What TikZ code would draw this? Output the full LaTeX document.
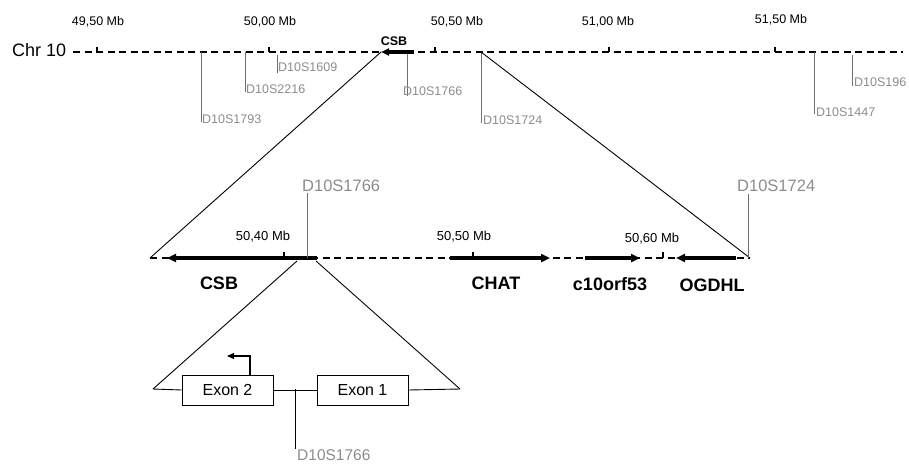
\documentclass[tikz,border=0pt]{standalone}
\usepackage{fontspec}
\setmainfont{Liberation Sans}
\usetikzlibrary{arrows.meta}
\definecolor{mk}{HTML}{8C8C8C}
\definecolor{mkline}{HTML}{6E6E6E}
\begin{document}
\begin{tikzpicture}[x=1pt,y=-1pt,
  chrline/.style={line width=1.1pt,dash pattern=on 7pt off 4.5pt},
  tickmark/.style={line width=1.1pt},
  mbtxt/.style={font=\fontsize{12.5}{12.5}\selectfont,inner sep=0pt},
  mblab/.style={font=\fontsize{12.5}{12.5}\selectfont,text=mk,inner sep=0pt,anchor=north west},
  mkl/.style={draw=mkline,line width=0.9pt},
  gene/.style={line width=3.6pt,-{Triangle[length=9pt,width=8pt]}},
  gname/.style={font=\bfseries\fontsize{18}{18}\selectfont,inner sep=0pt},
  thin/.style={line width=0.9pt},
  exonbox/.style={draw,line width=0.9pt,minimum width=91pt,minimum height=30pt,inner sep=0pt,font=\fontsize{16}{16}\selectfont}]
\useasboundingbox (0,0) rectangle (909,463);
% ---------- top chromosome ----------
\node[font=\fontsize{18}{18}\selectfont,inner sep=0pt,anchor=west] (chr) at (12,50) {Chr 10};
\coordinate (tl) at (73,52);
\coordinate (tr) at (903,52);
\draw[chrline] (tl) -- (tr);
\foreach \x [count=\i] in {97,269,435,609,775}{
  \coordinate (tk\i) at (\x,52);
  \draw[tickmark] (tk\i) -- ++(0,-5);
}
\node[mbtxt] (m1) at (98,22) {49,50 Mb};
\node[mbtxt] (m2) at (270,22) {50,00 Mb};
\node[mbtxt] (m3) at (457,22) {50,50 Mb};
\node[mbtxt] (m4) at (608,22) {51,00 Mb};
\node[mbtxt] (m5) at (781,20) {51,50 Mb};
% markers
\coordinate (a1) at (201,52); \coordinate (b1) at (201,122);
\coordinate (a2) at (245,52); \coordinate (b2) at (245,92);
\coordinate (a3) at (277,55); \coordinate (b3) at (277,73);
\coordinate (a4) at (407,52); \coordinate (b4) at (407,96);
\coordinate (a5) at (481,52); \coordinate (b5) at (481,123);
\coordinate (a6) at (814,52); \coordinate (b6) at (814,114);
\coordinate (a7) at (852,55); \coordinate (b7) at (852,86);
\foreach \i in {1,...,7}{\draw[mkl] (a\i) -- (b\i);}
\node[mblab] (l1) at (202,115) {D10S1793};
\node[mblab] (l2) at (246,85) {D10S2216};
\node[mblab] (l3) at (278,63) {D10S1609};
\node[mblab] (l4) at (403,87) {D10S1766};
\node[mblab] (l5) at (483,116) {D10S1724};
\node[mblab] (l6) at (816,108) {D10S1447};
\node[mblab] (l7) at (854,78) {D10S196};
% top CSB
\coordinate (cs1) at (414,52);
\coordinate (cs2) at (381,52);
\draw[line width=3.2pt,-{Triangle[length=8pt,width=7pt]}] (cs1) -- (cs2);
\node[font=\bfseries\fontsize{12.5}{12.5}\selectfont,inner sep=0pt] (csbt) at (394,41) {CSB};
% ---------- middle ----------
\coordinate (ml) at (150,258);
\coordinate (mr) at (750,258);
\draw[chrline] (ml) -- (mr);
\draw[thin] (cs2) -- (ml);
\draw[thin] (a5) -- (mr);
\foreach \x/\i in {284/1,473/2,663/3}{\coordinate (mt\i) at (\x,258); \draw[tickmark] (mt\i) -- ++(0,-6);}
\node[font=\fontsize{13}{13}\selectfont,inner sep=0pt] (n1) at (263,237) {50,40 Mb};
\node[font=\fontsize{13}{13}\selectfont,inner sep=0pt] (n2) at (464,237) {50,50 Mb};
\node[font=\fontsize{13}{13}\selectfont,inner sep=0pt] (n3) at (652,239) {50,60 Mb};
% genes
\coordinate (g1a) at (317,258); \coordinate (g1b) at (167,258);
\coordinate (g2a) at (450,258); \coordinate (g2b) at (550,258);
\coordinate (g3a) at (585,258); \coordinate (g3b) at (640,258);
\coordinate (g4a) at (736,258); \coordinate (g4b) at (676,258);
\draw[gene] (g1a) -- (g1b);
\draw[gene] (g2a) -- (g2b);
\draw[gene] (g3a) -- (g3b);
\draw[gene] (g4a) -- (g4b);
\node[gname] (csb) at (219,283) {CSB};
\node[gname] (chat) at (496,283) {CHAT};
\node[gname] (c10) at (610,284) {c10orf53};
\node[gname] (ogdhl) at (712,285) {OGDHL};
% middle markers
\coordinate (d1a) at (307,193); \coordinate (d1b) at (307,258);
\coordinate (d2a) at (748,194); \coordinate (d2b) at (748,258);
\draw[mkl] (d1a) -- (d1b);
\draw[mkl] (d2a) -- (d2b);
\node[font=\fontsize{16.5}{16.5}\selectfont,text=mk,inner sep=0pt,anchor=south west] (dl1) at (302,192) {D10S1766};
\node[font=\fontsize{16.5}{16.5}\selectfont,text=mk,inner sep=0pt,anchor=south west] (dl2) at (737,192) {D10S1724};
% ---------- bottom ----------
\coordinate (z1) at (297,261);
\coordinate (z2) at (316,261);
\coordinate (bl) at (153,389);
\coordinate (br) at (460,389);
\draw[thin] (z1) -- (bl);
\draw[thin] (z2) -- (br);
\node[exonbox] (ex2) at (227.5,390) {Exon 2};
\node[exonbox] (ex1) at (362.5,390) {Exon 1};
\draw[thin] (bl) -- (ex2.west);
\draw[thin] (ex2.east) -- (ex1.west);
\draw[thin] (ex1.east) -- (br);
\coordinate (s1) at (295,389);
\coordinate (s2) at (295,449);
\draw[thin] (s1) -- (s2);
\node[font=\fontsize{15.5}{15.5}\selectfont,text=mk,inner sep=0pt,anchor=south west] (dl3) at (297,461) {D10S1766};
\coordinate (p1) at (250,375);
\coordinate (p2) at (250,356);
\coordinate (p3) at (227,356);
\draw[line width=1.1pt,-{Triangle[length=7pt,width=6pt]}] (p1) -- (p2) -- (p3);
\end{tikzpicture}
\end{document}
